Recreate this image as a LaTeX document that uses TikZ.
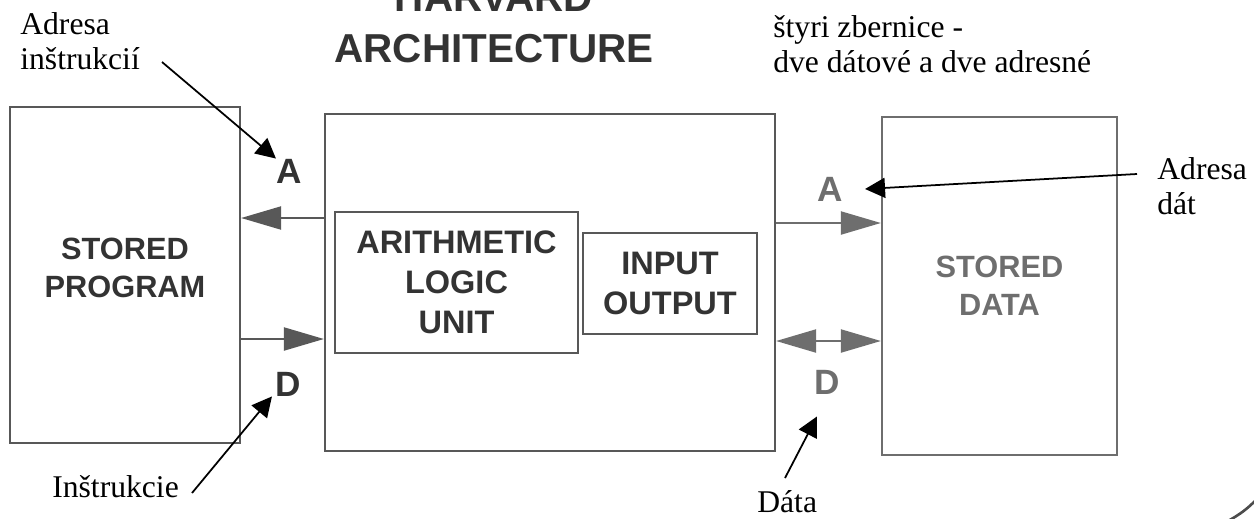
\documentclass[tikz,border=0pt]{standalone}
\usepackage{fontspec}
\setmainfont{Liberation Serif}
\newfontfamily\helv{Liberation Sans}
\usetikzlibrary{arrows.meta,positioning}
\definecolor{boxline}{HTML}{585858}
\definecolor{inkdark}{HTML}{333333}
\definecolor{inkfade}{HTML}{6E6E6E}

\begin{document}
\begin{tikzpicture}[x=0.02cm, y=-0.02cm,
  unit/.style={draw=boxline, line width=1.3pt, inner sep=0pt,
               align=center, text=inkdark,
               font=\helv\bfseries\fontsize{18.5}{22.7}\selectfont},
  store/.style={unit, font=\helv\bfseries\fontsize{17.5}{21.5}\selectfont},
  bus/.style={boxline, line width=1.2pt,
              -{Triangle[length=0.8cm, width=0.46cm]}},
  busfade/.style={bus, draw=inkfade, fill=inkfade},
  busletter/.style={font=\helv\bfseries\fontsize{20}{24}\selectfont,
                    text=inkdark, inner sep=0pt},
  note/.style={font=\fontsize{18}{19.8}\selectfont, inner sep=0pt,
               align=left},
  pointer/.style={-{Triangle[length=0.4cm, width=0.4cm]}, line width=1pt},
]
  \useasboundingbox (0,0) rectangle (1254,518);
  \clip (0,0) rectangle (1254,518);

  % Title
  \node[font=\helv\bfseries\fontsize{23}{28.9}\selectfont, text=inkdark,
        align=center, inner sep=0pt, anchor=south] (title) at (494,63)
    {HARVARD\\ARCHITECTURE};

  % Blocks
  \node[store, minimum width=4.6cm, minimum height=6.72cm] (prog) at (125,275) {};
  \node[font=\helv\bfseries\fontsize{17.5}{21.5}\selectfont, text=inkdark,
        align=center, inner sep=0pt] (progtext) at (125,268) {STORED\\PROGRAM};
  \node[unit, minimum width=9cm, minimum height=6.74cm] (cpu) at (550,282.5) {};
  \node[unit, minimum width=4.86cm, minimum height=2.82cm] (alu) at (456.5,282.5)
    {ARITHMETIC\\LOGIC\\UNIT};
  \node[unit, minimum width=3.48cm, minimum height=2.02cm] (io) at (670,283.5)
    {INPUT\\OUTPUT};
  \node[store, draw=inkfade, text=inkfade, minimum width=4.7cm,
        minimum height=6.76cm] (data) at (999.5,286) {STORED\\DATA};

  % Bus levels
  \coordinate (yA1) at (0,218);
  \coordinate (yD1) at (0,339);
  \coordinate (yA2) at (0,223);
  \coordinate (yD2) at (0,341);

  % Program side
  \draw[bus] (cpu.west |- yA1) -- (prog.east |- yA1);
  \draw[bus] (prog.east |- yD1) -- (cpu.west |- yD1);
  \node[busletter] (lblA1) at (289,171) {A};
  \node[busletter] (lblD1) at (288,384) {D};

  % Data side
  \draw[busfade] (cpu.east |- yA2) -- (data.west |- yA2);
  \draw[busfade, {Triangle[length=0.8cm, width=0.46cm]}-{Triangle[length=0.8cm, width=0.46cm]}]
    (cpu.east |- yD2) -- (data.west |- yD2);
  \node[busletter, text=inkfade] (lblA2) at (830,189) {A};
  \node[busletter, text=inkfade] (lblD2) at (827,382) {D};

  % Notes
  \node[note, anchor=north west] (adrins) at (20,12) {Adresa\\inštrukcií};
  \node[note, anchor=north west] (buses) at (773,15)
    {štyri zbernice -\\dve dátové a dve adresné};
  \node[note, anchor=north west] (adrdat) at (1157,157) {Adresa\\dát};
  \node[note, anchor=base west] (instr) at (52,497) {Inštrukcie};
  \node[note, anchor=base west] (dat) at (757,512) {Dáta};

  \coordinate (adrins-end) at (162,62);
  \coordinate (adrdat-end) at (1137,174);
  \coordinate (instr-end) at (192,493);
  \coordinate (dat-end) at (785,478);

  \draw[pointer] (adrins-end) -- (lblA1.north west);
  \draw[pointer] (adrdat-end) -- ([xshift=0.44cm]lblA2.east);
  \draw[pointer] (instr-end) -- ([xshift=-0.06cm]lblD1.south west);
  \draw[pointer] (dat-end) -- ([xshift=-0.2cm, yshift=-0.44cm]lblD2.south);

  % scan edge
  \draw[line width=1.5pt, black!70] (1228,521) to[bend right=8] (1257,499);
\end{tikzpicture}
\end{document}
